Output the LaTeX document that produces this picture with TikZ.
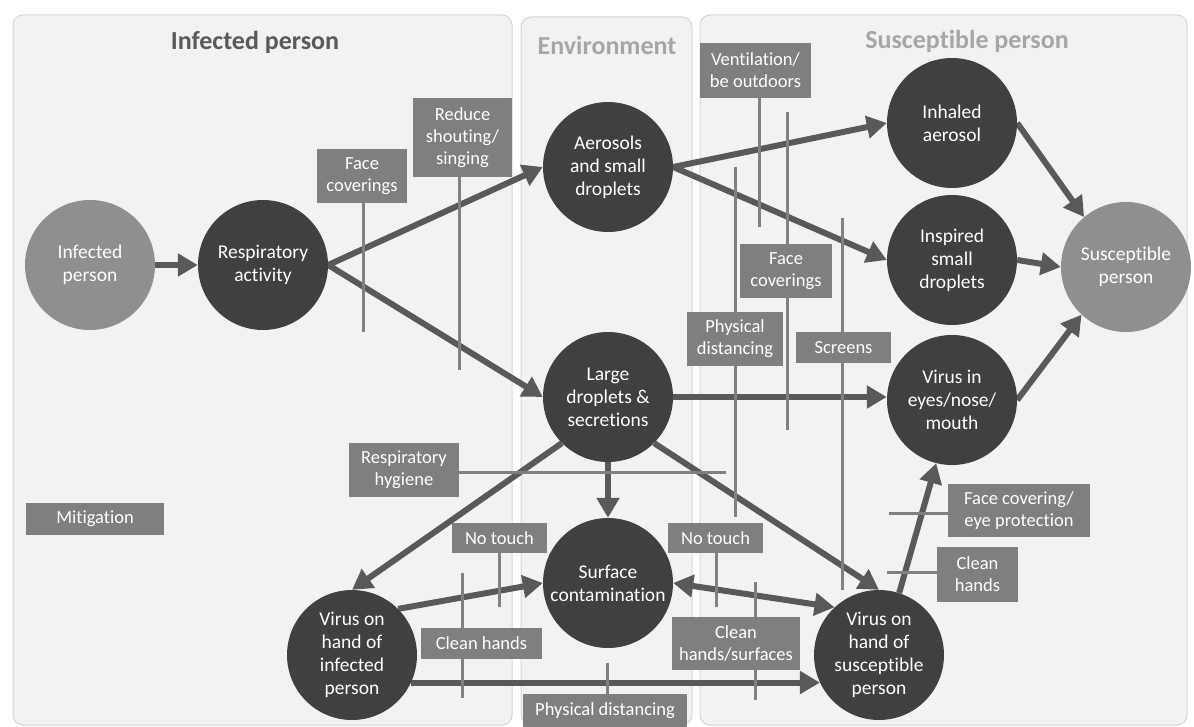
\documentclass[tikz,border=0pt]{standalone}
\usepackage{fontspec}
\setmainfont{Carlito}[Ligatures={NoCommon}]
\usetikzlibrary{arrows.meta}
\definecolor{panelfill}{HTML}{F2F2F2}
\definecolor{panelline}{HTML}{D6D6D6}
\definecolor{darkc}{HTML}{404040}
\definecolor{lightc}{HTML}{8F8F8F}
\definecolor{boxc}{HTML}{7F7F7F}
\definecolor{arrowc}{HTML}{595959}
\definecolor{linec}{HTML}{808080}
\definecolor{titledark}{HTML}{595959}
\definecolor{titlelight}{HTML}{A6A6A6}
\pgfdeclarelayer{back}
\pgfdeclarelayer{mid}
\pgfsetlayers{back,mid,main}
\tikzset{
  panel/.style={draw=panelline, fill=panelfill, rounded corners=10pt, line width=1pt},
  dcirc/.style={circle, fill=darkc, minimum size=130pt, inner sep=0pt, text=white, align=center, font=\fontsize{19.5}{23}\selectfont},
  lcirc/.style={dcirc, fill=lightc},
  mbox/.style={fill=boxc, text=white, align=center, inner sep=0pt, font=\fontsize{18.5}{22}\selectfont},
  flow/.style={draw=arrowc, line width=6pt, -{Triangle[length=20pt,width=22pt]}},
  flowboth/.style={draw=arrowc, line width=6pt, {Triangle[length=20pt,width=22pt]}-{Triangle[length=20pt,width=22pt]}},
  mline/.style={draw=linec, line width=3pt},
  ptitle/.style={font=\fontsize{26}{30}\selectfont\bfseries}
}
\begin{document}
\begin{tikzpicture}[x=1pt,y=-1pt]
\useasboundingbox (0,0) rectangle (1194,727);
% panels
\begin{pgfonlayer}{back}
\fill[white] (0,0) rectangle (1194,727);
\draw[panel] (13,15) rectangle (512,725);
\draw[panel] (521,17) rectangle (692,725);
\draw[panel] (700,15) rectangle (1187,725);
\end{pgfonlayer}
% titles
\node[ptitle, text=titledark] (t1) at (255,42) {Infected person};
\node[ptitle, text=titlelight] (t2) at (607,45) {Environment};
\node[ptitle, text=titlelight] (t3) at (967,41) {Susceptible person};
% circles
\node[lcirc] (inf) at (90,265) {Infected\\person};
\node[dcirc] (resp) at (263,265) {Respiratory\\activity};
\node[dcirc] (aer) at (608,167) {Aerosols\\and small\\droplets};
\node[dcirc] (large) at (608,397) {Large\\droplets \&\\secretions};
\node[dcirc] (surf) at (608,583) {Surface\\contamination};
\node[dcirc] (hi) at (352,655) {Virus on\\hand of\\infected\\person};
\node[dcirc] (hs) at (879,655) {Virus on\\hand of\\susceptible\\person};
\node[dcirc] (inh) at (952,123) {Inhaled\\aerosol};
\node[dcirc] (insp) at (952,260) {Inspired\\small\\droplets};
\node[dcirc] (eyes) at (952,400) {Virus in\\eyes/nose/\\mouth};
\node[lcirc] (sus) at (1126,267) {Susceptible\\person};
% mitigation boxes
\node[mbox, minimum width=90pt, minimum height=54pt] (fc1) at (362,176) {Face\\coverings};
\node[mbox, minimum width=99pt, minimum height=79pt] (rs) at (462.5,137.5) {Reduce\\shouting/\\singing};
\node[mbox, minimum width=111pt, minimum height=55pt] (vent) at (755.5,70.5) {Ventilation/\\be outdoors};
\node[mbox, minimum width=92pt, minimum height=54pt] (fc2) at (786,271) {Face\\coverings};
\node[mbox, minimum width=96pt, minimum height=54pt] (pd1) at (735,339) {Physical\\distancing};
\node[mbox, minimum width=95pt, minimum height=31pt] (scr) at (843.5,347.5) {Screens};
\node[mbox, minimum width=110pt, minimum height=54pt] (rh) at (404,470) {Respiratory\\hygiene};
\node[mbox, minimum width=95pt, minimum height=30pt] (nt1) at (499.5,538) {No touch};
\node[mbox, minimum width=121pt, minimum height=31pt] (ch1) at (481.5,643.5) {Clean hands};
\node[mbox, minimum width=164pt, minimum height=33pt] (pd2) at (605,710.5) {Physical distancing};
\node[mbox, minimum width=95pt, minimum height=30pt] (nt2) at (715.5,538) {No touch};
\node[mbox, minimum width=128pt, minimum height=53pt] (chs) at (736,643.5) {Clean\\hands/surfaces};
\node[mbox, minimum width=142pt, minimum height=53pt] (fce) at (1019,510.5) {Face covering/\\eye protection};
\node[mbox, minimum width=81pt, minimum height=55pt] (ch2) at (977.5,574.5) {Clean\\hands};
\node[mbox, minimum width=138pt, minimum height=32pt] (mit) at (95,519) {Mitigation};
% free ends of mitigation lines
\coordinate (fc1e) at (363,332);
\coordinate (rse) at (459,370);
\coordinate (vente) at (759,227);
\coordinate (fc2a) at (787,112);
\coordinate (fc2b) at (787,430);
\coordinate (pd1a) at (735,167);
\coordinate (pd1b) at (735,517);
\coordinate (scra) at (842,218);
\coordinate (scrb) at (842,590);
\coordinate (rhe) at (726,472);
\coordinate (nt1e) at (499,607);
\coordinate (ch1a) at (462,573);
\coordinate (ch1b) at (462,698);
\coordinate (pd2e) at (607,663);
\coordinate (nt2e) at (716,607);
\coordinate (chsa) at (755,582);
\coordinate (chsb) at (755,700);
\coordinate (fcee) at (889,513);
\coordinate (ch2e) at (887,572);
\begin{pgfonlayer}{mid}
% flows
\draw[flow] (inf.east) -- (resp.west);
\draw[flow] (resp.east) -- (aer.west);
\draw[flow] (resp.east) -- (large.west);
\draw[flow] (aer.east) -- (inh.west);
\draw[flow] (aer.east) -- (insp.west);
\draw[flow] (large.east) -- (eyes.west |- large.east);
\draw[flow] (large.south) -- (surf.north);
\draw[flow] (large.225) -- (hi.north);
\draw[flow] (large.-45) -- (hs.north);
\draw[flow] (hi.45) -- (surf.west);
\draw[flowboth] (surf.east) -- (hs.133);
\draw[flow] (hi.-25) -- (hs.205);
\draw[flow] (hs.72) -- (eyes.-104);
\draw[flow] (inh.east) -- (sus.130);
\draw[flow] (insp.east) -- (sus.west);
\draw[flow] (eyes.east) -- (sus.-133);
% mitigation lines
\draw[mline] (fc1.south -| fc1e) -- (fc1e);
\draw[mline] (rs.south -| rse) -- (rse);
\draw[mline] (vent.south -| vente) -- (vente);
\draw[mline] (fc2a) -- (fc2b);
\draw[mline] (pd1a) -- (pd1b);
\draw[mline] (scra) -- (scrb);
\draw[mline] (rh.east |- rhe) -- (rhe);
\draw[mline] (nt1.south -| nt1e) -- (nt1e);
\draw[mline] (ch1a) -- (ch1b);
\draw[mline] (pd2e) -- (pd2.north -| pd2e);
\draw[mline] (nt2.south -| nt2e) -- (nt2e);
\draw[mline] (chsa) -- (chsb);
\draw[mline] (fcee) -- (fce.west |- fcee);
\draw[mline] (ch2e) -- (ch2.west |- ch2e);
\end{pgfonlayer}
\end{tikzpicture}
\end{document}
